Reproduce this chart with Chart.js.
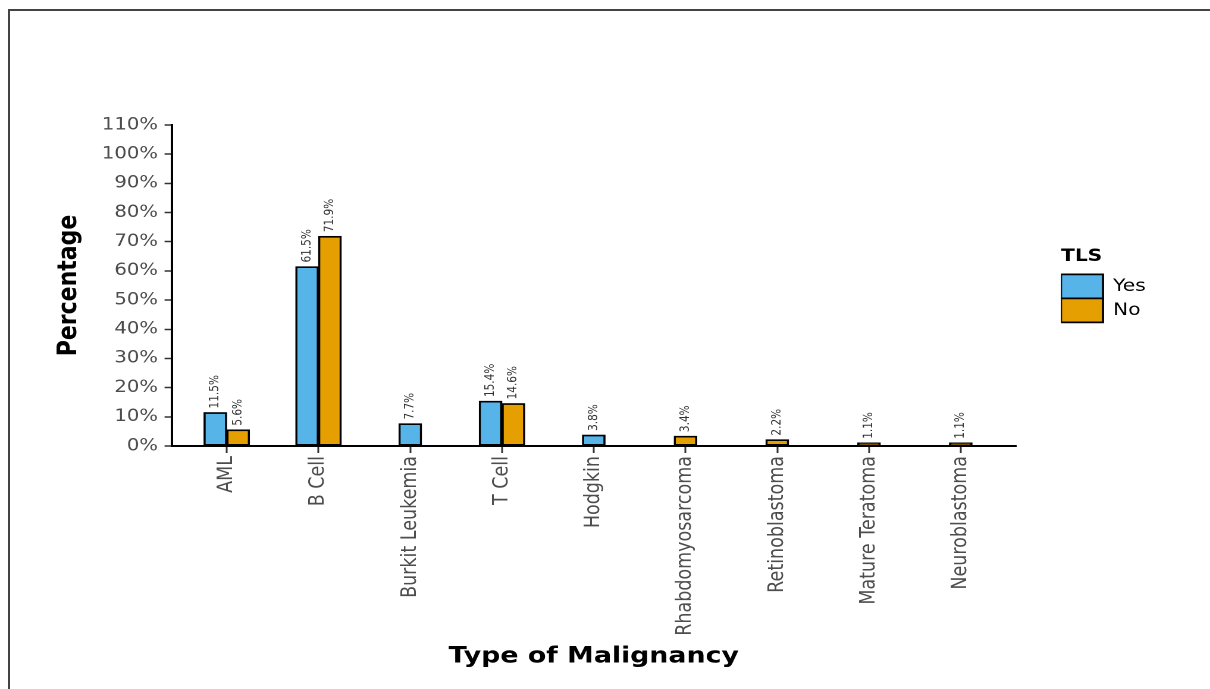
<!DOCTYPE html>
<html>
<head>
<meta charset="utf-8">
<title>Type of Malignancy by TLS</title>
<script src="https://cdn.jsdelivr.net/npm/chart.js@4"></script>
<style>
  html, body { margin: 0; padding: 0; background: #fff; }
  body { width: 1210px; height: 689px; overflow: hidden; position: relative; }
  .frame { position: absolute; left: 8px; top: 9px; right: -10px; bottom: -10px;
           border-top: 2px solid #444; border-left: 2px solid #444; }
  /* the original image is stretched sideways, so the chart is too */
  .stretch { position: absolute; left: 0; top: 0; width: 1017px; height: 689px;
             transform: scaleX(1.1898); transform-origin: 0 0; }
</style>
</head>
<body>
<div class="frame"></div>
<div class="stretch"><canvas id="malignancyChart"></canvas></div>
<script>
const categories = ['AML', 'B Cell', 'Burkit Leukemia', 'T Cell', 'Hodgkin',
  'Rhabdomyosarcoma', 'Retinoblastoma', 'Mature Teratoma', 'Neuroblastoma'];
const yesValues = [11.5, 61.5, 7.7, 15.4, 3.8, null, null, null, null];
const noValues = [5.6, 71.9, null, 14.6, null, 3.4, 2.2, 1.1, 1.1];
const yTicks = [0, 10, 20, 30, 40, 50, 60, 70, 80, 90, 100, 110];

const FONT = 'DejaVu Sans';

// value labels, rotated, above each bar
const barLabels = {
  id: 'barLabels',
  afterDatasetsDraw(chart) {
    const ctx = chart.ctx;
    ctx.save();
    ctx.font = '10.5px "' + FONT + '"';
    ctx.fillStyle = '#333';
    ctx.textAlign = 'left';
    ctx.textBaseline = 'middle';
    chart.data.datasets.forEach((ds, di) => {
      chart.getDatasetMeta(di).data.forEach((bar, i) => {
        const v = ds.data[i].y;
        if (v == null) return;
        ctx.save();
        ctx.translate(bar.x, bar.y - 4);
        ctx.rotate(-Math.PI / 2);
        ctx.fillText(v.toFixed(1) + '%', 0, 0);
        ctx.restore();
      });
    });
    ctx.restore();
  }
};

// push the legend a bit away from the plot
const legendShift = {
  id: 'legendShift',
  afterLayout(chart) {
    chart.legend.left += 38;
    chart.legend.right += 38;
  }
};

new Chart(document.getElementById('malignancyChart'), {
  type: 'bar',
  data: {
    datasets: [
      {
        label: 'Yes',
        data: yesValues.map((v, i) => ({ x: i, y: v })),
        backgroundColor: '#56B4E9',
        borderColor: '#000',
        borderWidth: 1.8,
        borderSkipped: false
      },
      {
        label: 'No',
        data: noValues.map((v, i) => ({ x: i, y: v })),
        backgroundColor: '#E69F00',
        borderColor: '#000',
        borderWidth: 1.8,
        borderSkipped: false
      }
    ]
  },
  options: {
    responsive: true,
    maintainAspectRatio: false,
    animation: false,
    devicePixelRatio: 2,
    datasets: { bar: { skipNull: true, barThickness: 19.2 } },
    layout: { padding: { top: 125, right: 82, bottom: 0, left: 0 } },
    scales: {
      x: {
        type: 'linear',
        min: -0.6,
        max: 8.6,
        offset: false,
        afterBuildTicks: (scale) => { scale.ticks = categories.map((c, i) => ({ value: i })); },
        afterFit: (scale) => { scale.height = 243; },
        ticks: {
          autoSkip: false,
          minRotation: 90,
          maxRotation: 90,
          padding: 3,
          color: '#4d4d4d',
          font: { family: FONT, size: 17.5 },
          callback: (v) => categories[v]
        },
        grid: { display: true, offset: false, drawOnChartArea: false, drawTicks: true, tickLength: 7, tickWidth: 1.5, tickColor: '#333' },
        border: { display: true, color: '#000', width: 2 },
        title: {
          display: true,
          text: 'Type of Malignancy',
          color: '#000',
          font: { family: FONT, size: 22.5, weight: 'bold' },
          padding: { top: 0, bottom: 19 }
        }
      },
      y: {
        min: 0,
        max: 110,
        afterBuildTicks: (scale) => { scale.ticks = yTicks.map(v => ({ value: v })); },
        afterFit: (scale) => { scale.width = 144.3; },
        ticks: {
          padding: 5.5,
          color: '#4d4d4d',
          font: { family: FONT, size: 16.5 },
          callback: (v) => v + '%'
        },
        grid: { display: true, drawOnChartArea: false, drawTicks: true, tickLength: 6, tickWidth: 1.5, tickColor: '#333' },
        border: { display: true, color: '#000', width: 2 },
        title: {
          display: true,
          text: 'Percentage',
          color: '#000',
          font: { family: FONT, size: 22, weight: 'bold' },
          padding: { top: 45, bottom: 0 }
        }
      }
    },
    plugins: {
      legend: {
        position: 'right',
        align: 'start',
        title: {
          display: true,
          text: 'TLS',
          position: 'start',
          color: '#000',
          font: { family: FONT, size: 17, weight: 'bold' },
          padding: { top: 123, bottom: 6 }
        },
        labels: {
          boxWidth: 35.3,
          boxHeight: 24,
          padding: 0,
          color: '#000',
          font: { family: FONT, size: 17 }
        }
      },
      tooltip: { enabled: false }
    }
  },
  plugins: [barLabels, legendShift]
});
</script>
</body>
</html>
